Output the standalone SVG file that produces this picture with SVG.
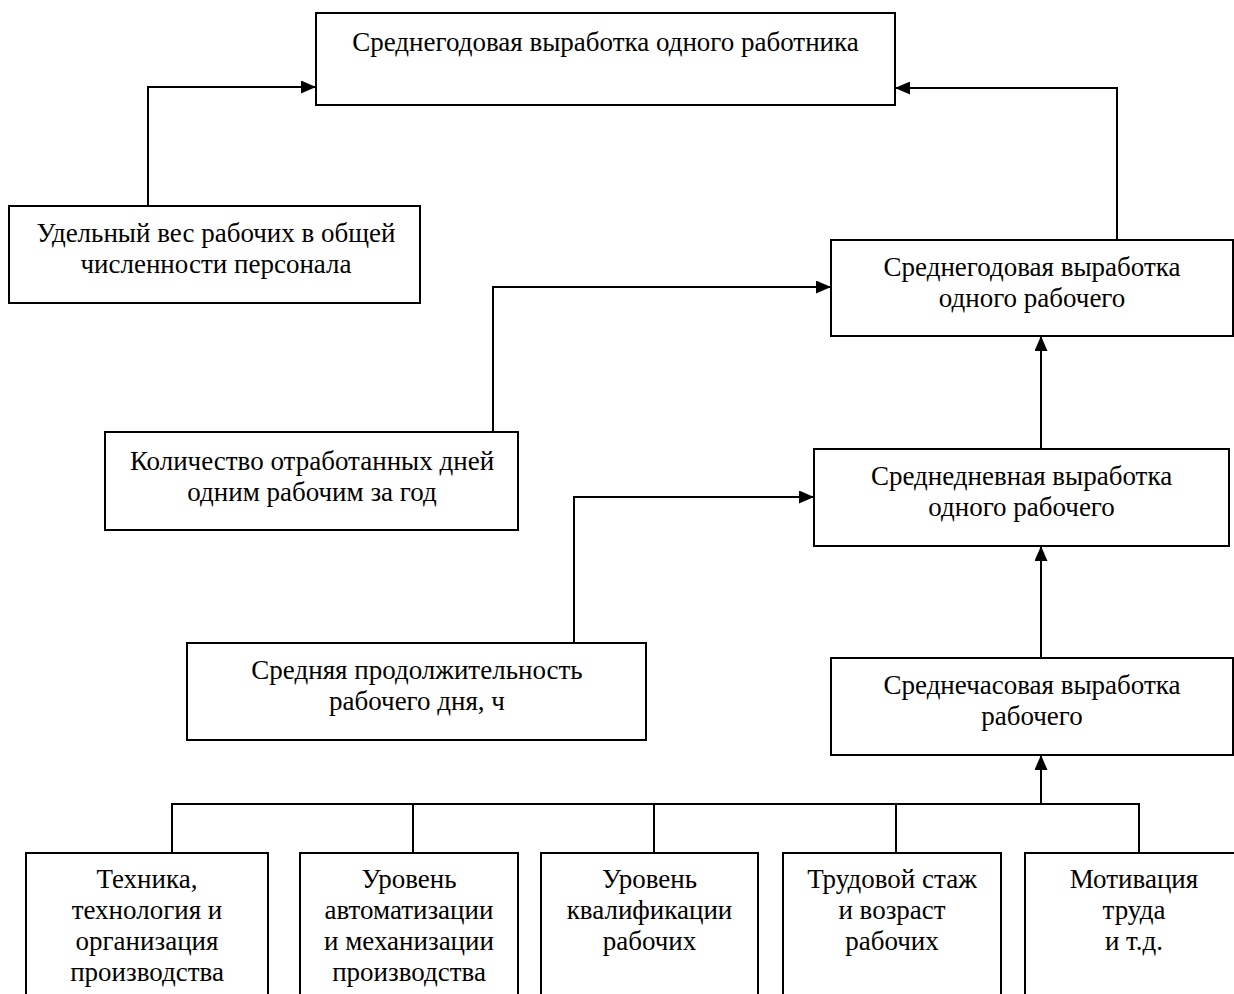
<svg xmlns="http://www.w3.org/2000/svg" width="1234" height="994" viewBox="0 0 1234 994">
<defs>
<style>
.box{fill:#fff;stroke:#000;stroke-width:2}
.t{font-family:"Liberation Serif","Times New Roman",serif;font-size:27px;fill:#000;text-anchor:middle}
.c{fill:none;stroke:#000;stroke-width:2}
</style>
<marker id="ah" markerUnits="userSpaceOnUse" markerWidth="15" markerHeight="13" refX="15" refY="6.5" orient="auto">
<path d="M0,0 L15,6.5 L0,13 z" fill="#000"/>
</marker>
</defs>
<rect width="1234" height="994" fill="#fff"/>
<g id="connectors">
<path class="c" d="M148,206 V87 H316" marker-end="url(#ah)"/>
<path class="c" d="M1117,240 V88 H895" marker-end="url(#ah)"/>
<path class="c" d="M493,432 V287 H831" marker-end="url(#ah)"/>
<path class="c" d="M1041,449 V336" marker-end="url(#ah)"/>
<path class="c" d="M574,643 V497 H814" marker-end="url(#ah)"/>
<path class="c" d="M1041,658 V546" marker-end="url(#ah)"/>
<path class="c" d="M172,853 V804 H1139 V853 M413,804 V853 M654,804 V853 M896,804 V853"/>
<path class="c" d="M1041,804 V755" marker-end="url(#ah)"/>
</g>
<g id="n-top">
<rect class="box" x="316" y="13" width="579" height="92"/>
<text class="t" x="605.5" y="51">Среднегодовая выработка одного работника</text>
</g>
<g id="n-ves">
<rect class="box" x="9" y="206" width="411" height="97"/>
<text class="t" x="216" y="242">Удельный вес рабочих в общей</text>
<text class="t" x="216" y="273">численности персонала</text>
</g>
<g id="n-god">
<rect class="box" x="831" y="240" width="402" height="96"/>
<text class="t" x="1032" y="276">Среднегодовая выработка</text>
<text class="t" x="1032" y="307">одного рабочего</text>
</g>
<g id="n-dni">
<rect class="box" x="105" y="432" width="413" height="98"/>
<text class="t" x="312" y="470">Количество отработанных дней</text>
<text class="t" x="312" y="501">одним рабочим за год</text>
</g>
<g id="n-den">
<rect class="box" x="814" y="449" width="415" height="97"/>
<text class="t" x="1021.5" y="485">Среднедневная выработка</text>
<text class="t" x="1021.5" y="516">одного рабочего</text>
</g>
<g id="n-prod">
<rect class="box" x="187" y="643" width="459" height="97"/>
<text class="t" x="417" y="679">Средняя продолжительность</text>
<text class="t" x="417" y="710">рабочего дня, ч</text>
</g>
<g id="n-chas">
<rect class="box" x="831" y="658" width="402" height="97"/>
<text class="t" x="1032" y="694">Среднечасовая выработка</text>
<text class="t" x="1032" y="725">рабочего</text>
</g>
<g id="n-tech">
<rect class="box" x="26" y="853" width="242" height="150"/>
<text class="t" x="147" y="888">Техника,</text>
<text class="t" x="147" y="919">технология и</text>
<text class="t" x="147" y="950">организация</text>
<text class="t" x="147" y="981">производства</text>
</g>
<g id="n-avto">
<rect class="box" x="300" y="853" width="218" height="150"/>
<text class="t" x="409" y="888">Уровень</text>
<text class="t" x="409" y="919">автоматизации</text>
<text class="t" x="409" y="950">и механизации</text>
<text class="t" x="409" y="981">производства</text>
</g>
<g id="n-kval">
<rect class="box" x="541" y="853" width="217" height="150"/>
<text class="t" x="649.5" y="888">Уровень</text>
<text class="t" x="649.5" y="919">квалификации</text>
<text class="t" x="649.5" y="950">рабочих</text>
</g>
<g id="n-stazh">
<rect class="box" x="783" y="853" width="218" height="150"/>
<text class="t" x="892" y="888">Трудовой стаж</text>
<text class="t" x="892" y="919">и возраст</text>
<text class="t" x="892" y="950">рабочих</text>
</g>
<g id="n-motiv">
<rect class="box" x="1025" y="853" width="220" height="150"/>
<text class="t" x="1134" y="888">Мотивация</text>
<text class="t" x="1134" y="919">труда</text>
<text class="t" x="1134" y="950">и т.д.</text>
</g>
</svg>
